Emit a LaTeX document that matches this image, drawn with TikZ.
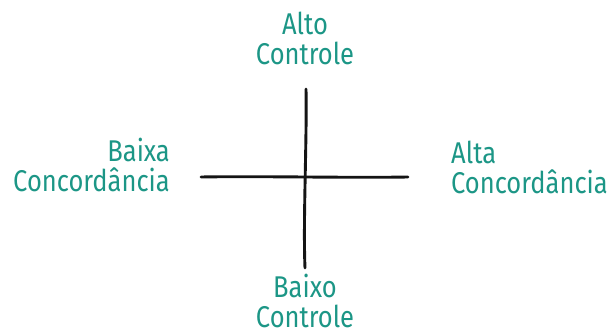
\documentclass[tikz,border=0pt]{standalone}
\usepackage{fontspec}
\setmainfont{Fira Sans}[FakeStretch=0.85]
\definecolor{tealtxt}{RGB}{28,150,134}
\begin{document}
\begin{tikzpicture}[x=1pt,y=-1pt,
  lbl/.style={text=tealtxt,font=\fontsize{30}{30}\selectfont,inner sep=0pt},
  axis/.style={line width=2.9pt,line cap=round,black!92}]
\useasboundingbox (0,0) rectangle (610,336);
\node[lbl,align=center,anchor=north] (top) at (305,12) {Alto\\Controle};
\node[lbl,align=center,anchor=north] (bot) at (305,274) {Baixo\\Controle};
\node[lbl,align=right,anchor=north east] (left) at (170,138) {Baixa\\Concordância};
\node[lbl,align=left,anchor=north west] (right) at (451,141) {Alta\\Concordância};
\coordinate (vt) at (306,89);
\coordinate (vb) at (305,268);
\coordinate (hl) at (201,177);
\coordinate (hr) at (408,177);
\draw[axis] (vt) .. controls (307,140) and (303,220) .. (vb);
\draw[axis] (hl) .. controls (260,176) and (350,178) .. (hr);
\end{tikzpicture}
\end{document}
